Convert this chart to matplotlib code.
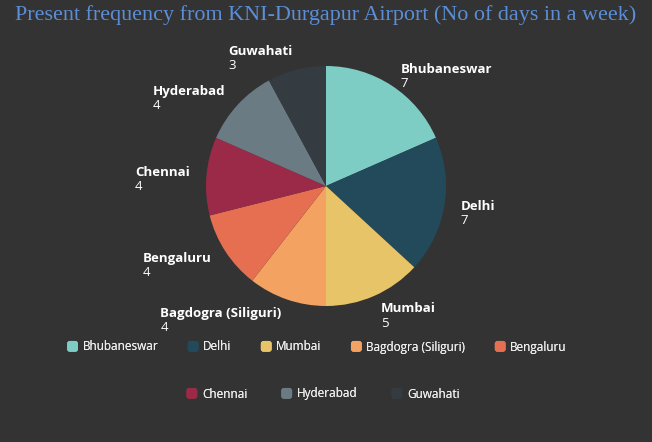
import matplotlib
matplotlib.use("Agg")
import matplotlib.pyplot as plt
from matplotlib.patches import Patch, FancyBboxPatch
from matplotlib.legend_handler import HandlerBase
import numpy as np

categories = ["Bhubaneswar", "Delhi", "Mumbai", "Bagdogra (Siliguri)", "Bengaluru",
              "Chennai", "Hyderabad", "Guwahati"]
values = [7, 7, 5, 4, 4, 4, 4, 3]
colors = ["#7ecdc4", "#234a5a", "#e8c468", "#f4a261", "#e76f51",
          "#9b2a48", "#6b7b84", "#353c41"]
title = "Present frequency from KNI-Durgapur Airport (No of days in a week)"

BG = "#333333"
W, H = 652, 442
fig = plt.figure(figsize=(W / 100, H / 100), dpi=100, facecolor=BG)

cx, cy, r = 326, 186, 120
ax = fig.add_axes([(cx - r) / W, (H - cy - r) / H, 2 * r / W, 2 * r / H])
ax.set_facecolor(BG)
wedges, _ = ax.pie(values, colors=colors, startangle=90, counterclock=False,
                   radius=1.0, wedgeprops=dict(linewidth=0))
ax.set_xlim(-1, 1)
ax.set_ylim(-1, 1)
ax.set_aspect("equal")
ax.axis("off")

for w, name, v in zip(wedges, categories, values):
    ang = np.deg2rad((w.theta1 + w.theta2) / 2)
    x, y = 1.14 * np.cos(ang), 1.14 * np.sin(ang)
    ha = "left" if x > 0 else "right"
    nt = ax.annotate(name, xy=(x, y), xytext=(0, -3), textcoords="offset points",
                     ha=ha, va="bottom", color="white", fontsize=9.5,
                     fontweight="bold", family="Open Sans",
                     annotation_clip=False)
    ax.annotate(str(v), xy=(0, 0), xycoords=nt, xytext=(0, -0.8),
                textcoords="offset points", ha="left", va="top",
                color="white", fontsize=9.5, family="Open Sans",
                annotation_clip=False)

fig.text(0.5, 1 - 15 / H, title, ha="center", va="center", color="#5b8ed6",
         fontsize=15.9, family="Liberation Serif")


class RoundHandler(HandlerBase):
    def create_artists(self, legend, orig_handle, xdescent, ydescent, width,
                       height, fontsize, trans):
        s = 7.8
        x0 = -xdescent + width / 2 - s / 2
        y0 = -ydescent + height / 2 - s / 2
        p = FancyBboxPatch((x0, y0), s, s,
                           boxstyle="round,pad=0,rounding_size=2.0",
                           facecolor=orig_handle.get_facecolor(),
                           edgecolor="none", transform=trans)
        return [p]


def handles(idx):
    return [Patch(facecolor=colors[i]) for i in idx]


row1 = [0, 1, 2, 3, 4]
row2 = [5, 6, 7]
for idx, xx, yy, cs in ((row1, 0.5 - 9 / W, 1 - 347 / H, 2.5),
                        (row2, 0.5 - 3 / W, 1 - 394 / H, 2.9)):
    leg = fig.legend(handles(idx), [categories[i] for i in idx], loc="center",
                     bbox_to_anchor=(xx, yy), ncol=len(idx), frameon=False,
                     labelcolor="#eeeeee", handletextpad=0.4,
                     columnspacing=cs, handlelength=0.9,
                     handler_map={Patch: RoundHandler()},
                     prop={"family": "Open Sans", "size": 8.5})
    fig.add_artist(leg)

fig.savefig("out.png", dpi=100, facecolor=BG)
